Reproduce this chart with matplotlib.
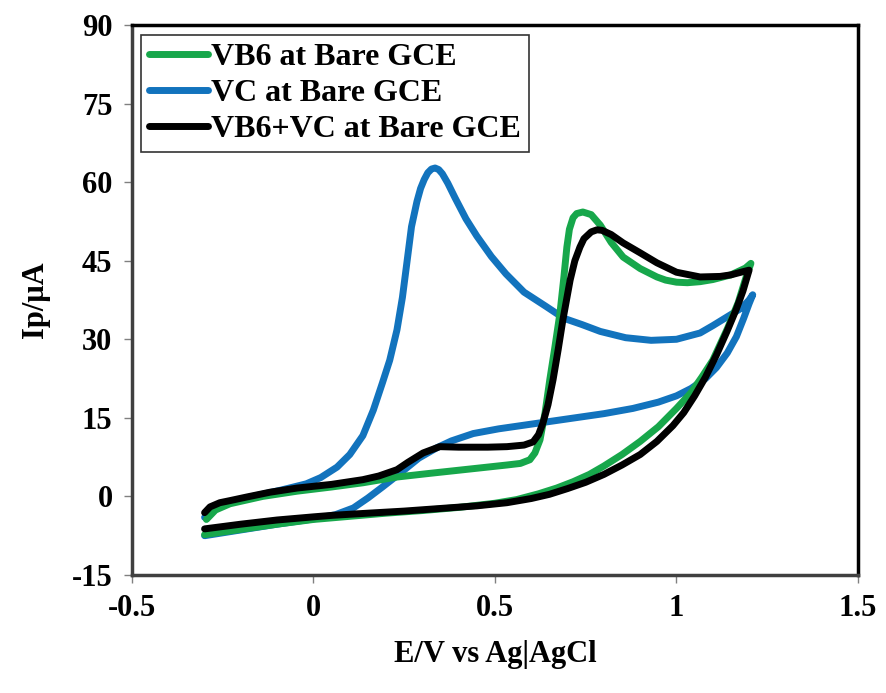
import matplotlib
matplotlib.use("Agg")
import matplotlib.pyplot as plt

plt.rcParams['font.family'] = ['Liberation Serif', 'DejaVu Serif']
plt.rcParams['font.weight'] = 'bold'
plt.rcParams['axes.unicode_minus'] = False

# VC at Bare GCE (lower branch out, peak branch back)
vc_v = [-0.30, -0.20, -0.10, 0.00, 0.06, 0.11, 0.15, 0.19, 0.24, 0.29, 0.34, 0.38, 0.44, 0.51,
        0.57, 0.63, 0.70, 0.80, 0.88, 0.95, 1.00, 1.04, 1.08, 1.11, 1.14, 1.165, 1.185, 1.20, 1.21,
        1.20, 1.18, 1.147, 1.10, 1.065, 1.00, 0.93, 0.86, 0.79, 0.74, 0.69, 0.64, 0.58, 0.53, 0.49,
        0.45, 0.42, 0.39, 0.37, 0.355, 0.345, 0.335, 0.325, 0.315, 0.305, 0.295, 0.285, 0.27,
        0.258, 0.245, 0.23, 0.21, 0.19, 0.165, 0.136, 0.10, 0.065, 0.02, -0.02, -0.09, -0.18,
        -0.26, -0.30]
vc_i = [-7.5, -6.4, -5.3, -4.3, -3.5, -2.2, -0.3, 1.8, 4.5, 7.3, 9.3, 10.6, 12.0, 12.9,
        13.5, 14.1, 14.8, 15.8, 16.8, 18.0, 19.2, 20.6, 22.5, 24.6, 27.4, 30.5, 34.0, 36.8, 38.5,
        37.5, 36.0, 34.6, 32.6, 31.2, 30.0, 29.8, 30.3, 31.5, 32.8, 34.0, 36.3, 39.0, 42.5, 45.8,
        49.7, 53.0, 57.0, 59.8, 61.6, 62.4, 62.7, 62.5, 61.8, 60.5, 58.8, 56.3, 51.5,
        45.0, 38.0, 31.8, 26.0, 21.7, 16.5, 11.6, 8.0, 5.6, 3.6, 2.4, 1.2, -0.2,
        -1.6, -4.0]

# VB6 at Bare GCE
vb6_v = [-0.30, -0.20, -0.10, 0.00, 0.10, 0.20, 0.30, 0.40, 0.50, 0.56, 0.62, 0.67, 0.715, 0.76,
         0.80, 0.85, 0.90, 0.95, 1.00, 1.04, 1.07, 1.10, 1.14, 1.17, 1.19, 1.205,
         1.19, 1.15, 1.10, 1.065, 1.03, 1.00, 0.97, 0.946, 0.90, 0.853, 0.82, 0.79, 0.765, 0.742,
         0.725, 0.715, 0.705, 0.698, 0.69, 0.679, 0.665, 0.651, 0.638, 0.624, 0.61, 0.596, 0.57,
         0.533, 0.48, 0.40, 0.32, 0.23, 0.136, 0.05, -0.045, -0.14, -0.23, -0.27, -0.295]
vb6_i = [-7.3, -6.3, -5.3, -4.4, -3.8, -3.2, -2.7, -2.1, -1.3, -0.6, 0.5, 1.6, 2.8, 4.2,
         5.8, 8.0, 10.5, 13.3, 16.8, 19.8, 22.8, 26.0, 32.0, 37.0, 41.5, 44.5,
         43.6, 42.3, 41.4, 41.0, 40.8, 40.9, 41.3, 41.9, 43.5, 45.7, 48.5, 51.8, 53.8, 54.3,
         54.0, 53.2, 51.0, 47.6, 42.0, 35.0, 28.5, 22.3, 16.0, 10.8, 8.3, 7.0, 6.3,
         6.0, 5.6, 5.0, 4.4, 3.7, 2.6, 1.8, 1.0, 0.0, -1.4, -2.6, -4.4]

# VB6+VC at Bare GCE
mix_v = [-0.30, -0.20, -0.10, 0.00, 0.054, 0.15, 0.25, 0.35, 0.45, 0.533, 0.60, 0.65, 0.70, 0.75,
         0.80, 0.85, 0.90, 0.946, 0.99, 1.02, 1.05, 1.08, 1.11, 1.139, 1.165, 1.183, 1.20,
         1.183, 1.15, 1.12, 1.065, 1.00, 0.946, 0.90, 0.853, 0.82, 0.795, 0.781, 0.765, 0.745, 0.734,
         0.72, 0.707, 0.697, 0.687, 0.674, 0.66, 0.646, 0.632, 0.62, 0.605, 0.58, 0.533, 0.48,
         0.40, 0.348, 0.302, 0.26, 0.23, 0.18, 0.136, 0.05, -0.045, -0.12, -0.183, -0.23, -0.258,
         -0.285, -0.30]
mix_i = [-6.2, -5.3, -4.5, -3.9, -3.6, -3.2, -2.8, -2.3, -1.8, -1.2, -0.4, 0.4, 1.5, 2.7,
         4.2, 6.0, 8.0, 10.5, 13.5, 16.0, 19.2, 22.8, 27.0, 31.5, 35.8, 39.2, 43.2,
         42.9, 42.3, 42.0, 41.9, 42.8, 44.6, 46.5, 48.4, 50.0, 50.8, 50.9, 50.5, 49.2, 47.6,
         45.0, 41.3, 37.5, 33.7, 28.0, 22.3, 17.5, 14.0, 11.8, 10.4, 9.8, 9.5, 9.4,
         9.4, 9.5, 8.3, 6.5, 5.1, 3.9, 3.2, 2.3, 1.6, 0.8, -0.1, -0.8, -1.2,
         -2.0, -3.1]

labels = ['VB6 at Bare GCE', 'VC at Bare GCE', 'VB6+VC at Bare GCE']
x_ticks = [-0.5, 0, 0.5, 1, 1.5]
x_tick_labels = ['-0.5', '0', '0.5', '1', '1.5']
y_ticks = [-15, 0, 15, 30, 45, 60, 75, 90]

fig = plt.figure(figsize=(8.87, 6.93), dpi=100)
ax = fig.add_axes([0.1488, 0.1703, 0.8185, 0.7936])

lw = 5
l_vc, = ax.plot(vc_v, vc_i, color='#1273BD', lw=lw, solid_capstyle='round', solid_joinstyle='round')
l_vb6, = ax.plot(vb6_v, vb6_i, color='#17A74B', lw=lw, solid_capstyle='round', solid_joinstyle='round')
l_mix, = ax.plot(mix_v, mix_i, color='black', lw=lw, solid_capstyle='round', solid_joinstyle='round')

ax.set_xlim(-0.5, 1.5)
ax.set_ylim(-15, 90)
ax.set_xticks(x_ticks)
ax.set_xticklabels(x_tick_labels)
ax.set_yticks(y_ticks)
ax.tick_params(axis='both', direction='out', length=6, width=1, color='#808080',
               labelsize=22, pad=8)

for side in ['top', 'right']:
    ax.spines[side].set_linewidth(2.5)
    ax.spines[side].set_color('black')
for side in ['left', 'bottom']:
    ax.spines[side].set_linewidth(2.5)
    ax.spines[side].set_color('#404040')

ax.set_xlabel('E/V vs Ag|AgCl', fontsize=22, fontweight='bold', labelpad=12)
ax.set_ylabel('Ip/μA', fontsize=22, fontweight='bold', labelpad=16)

leg = ax.legend([l_vb6, l_vc, l_mix], labels, loc='upper left', bbox_to_anchor=(0.012, 0.982),
                borderaxespad=0, handlelength=1.85, handletextpad=0.1,
                labelspacing=0.2, borderpad=0.25, fancybox=False, framealpha=1,
                prop={'weight': 'bold', 'size': 23})
leg.get_frame().set_edgecolor('#333333')
leg.get_frame().set_linewidth(1.2)

fig.savefig('out.png', dpi=100)
